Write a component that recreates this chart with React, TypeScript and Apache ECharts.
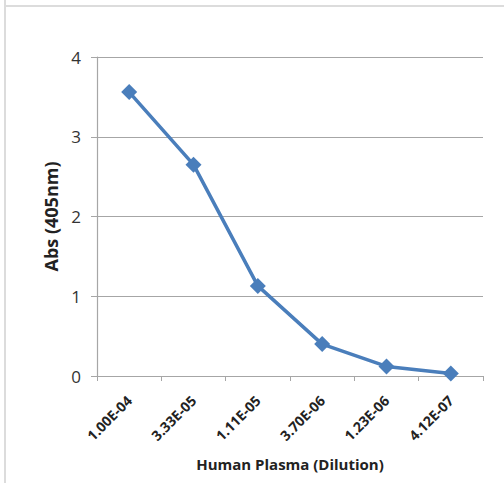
import React, { useEffect, useRef } from "react";
import * as echarts from "echarts";

const categories = ["1.00E-04", "3.33E-05", "1.11E-05", "3.70E-06", "1.23E-06", "4.12E-07"];
const absValues = [3.56, 2.65, 1.13, 0.4, 0.12, 0.03];
const yTicks = { min: 0, max: 4, interval: 1 };
const xTitle = "Human Plasma (Dilution)";
const yTitle = "Abs (405nm)";

export default function App() {
  const ref = useRef<HTMLDivElement>(null);
  useEffect(() => {
    document.body.style.margin = "0";
    const chart = echarts.init(ref.current!, null, { renderer: "svg" });
    const font = "'Open Sans', 'Liberation Sans', sans-serif";
    chart.setOption({
      animation: false,
      backgroundColor: "#ffffff",
      graphic: [
        { type: "line", shape: { x1: 5, y1: 0, x2: 5, y2: 483 }, style: { stroke: "#dcdcdc", lineWidth: 2 } },
        { type: "line", shape: { x1: 4, y1: 6, x2: 504, y2: 6 }, style: { stroke: "#dcdcdc", lineWidth: 2 } },
      ],
      grid: { left: 97, right: 21, top: 57, bottom: 107, containLabel: false },
      xAxis: {
        type: "category",
        data: categories,
        boundaryGap: true,
        name: xTitle,
        nameLocation: "middle",
        nameGap: 80,
        nameTextStyle: { fontFamily: font, fontWeight: "bold", fontSize: 15, color: "#222" },
        axisLine: { lineStyle: { color: "#a6a6a6", width: 1.2 } },
        axisTick: { show: true, length: 5, lineStyle: { color: "#a6a6a6" }, alignWithLabel: false },
        axisLabel: {
          rotate: 45,
          margin: 22,
          fontFamily: font,
          fontWeight: "bold",
          fontSize: 14,
          color: "#222",
          interval: 0,
        },
      },
      yAxis: {
        type: "value",
        min: yTicks.min,
        max: yTicks.max,
        interval: yTicks.interval,
        name: yTitle,
        nameLocation: "middle",
        nameGap: 33,
        nameRotate: 90,
        nameTextStyle: { fontFamily: font, fontWeight: "bold", fontSize: 18, color: "#222" },
        axisLine: { show: true, lineStyle: { color: "#a6a6a6", width: 1.2 } },
        axisTick: { show: true, length: 6, lineStyle: { color: "#a6a6a6" } },
        splitLine: { show: true, lineStyle: { color: "#a6a6a6", width: 1.2 } },
        axisLabel: { fontFamily: font, fontSize: 17, color: "#333", margin: 16 },
      },
      series: [
        {
          type: "line",
          data: absValues,
          symbol: "diamond",
          symbolSize: 16,
          lineStyle: { color: "#4a7ebb", width: 3.5 },
          itemStyle: { color: "#4a7ebb" },
        },
      ],
    });
    return () => chart.dispose();
  }, []);
  return <div ref={ref} style={{ width: 504, height: 483 }} />;
}
